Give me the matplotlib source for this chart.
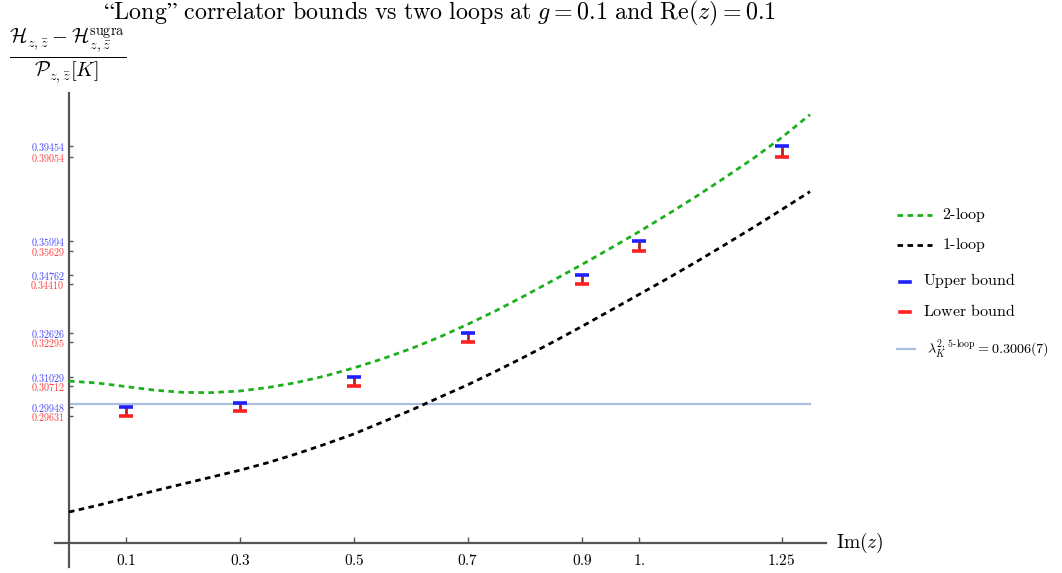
import matplotlib
matplotlib.use("Agg")
import matplotlib.pyplot as plt

plt.rcParams['mathtext.fontset'] = 'cm'
plt.rcParams['font.family'] = ['DejaVu Serif']

# bound points: Im(z), upper and lower bounds
im_z = [0.1, 0.3, 0.5, 0.7, 0.9, 1.0, 1.25]
upper = [0.29948, 0.3011, 0.31029, 0.32626, 0.34762, 0.35994, 0.39454]
lower = [0.29631, 0.2980, 0.30712, 0.32295, 0.34410, 0.35629, 0.39054]

# labelled points on the y axis
upper_ticks = [0.29948, 0.31029, 0.32626, 0.34762, 0.35994, 0.39454]
lower_ticks = [0.29631, 0.30712, 0.32295, 0.34410, 0.35629, 0.39054]

# curves, every 0.05 in Im(z)
x_curve = [0.0, 0.05, 0.1, 0.15, 0.2, 0.25, 0.3, 0.35, 0.4, 0.45, 0.5, 0.55, 0.6,
           0.65, 0.7, 0.75, 0.8, 0.85, 0.9, 0.95, 1.0, 1.05, 1.1, 1.15, 1.2, 1.25, 1.3]
y_2loop = [0.3089, 0.3082, 0.3069, 0.3056, 0.3048, 0.3047, 0.3053, 0.3066, 0.3084,
           0.3108, 0.3137, 0.3170, 0.3207, 0.3249, 0.3296, 0.3346, 0.3400, 0.3456,
           0.3513, 0.3572, 0.3632, 0.3695, 0.3760, 0.3828, 0.3898, 0.3974, 0.4058]
y_1loop = [0.2613, 0.2637, 0.2663, 0.2690, 0.2715, 0.2740, 0.2765, 0.2793, 0.2825,
           0.2860, 0.2897, 0.2940, 0.2983, 0.3030, 0.3076, 0.3126, 0.3178, 0.3232,
           0.3288, 0.3346, 0.3404, 0.3462, 0.3522, 0.3584, 0.3647, 0.3712, 0.3778]

lam_5loop = 0.3006
x_ticks = [0.1, 0.3, 0.5, 0.7, 0.9, 1.0, 1.25]
x_tick_labels = ['0.1', '0.3', '0.5', '0.7', '0.9', '1.', '1.25']

W, H = 1062, 573
fig = plt.figure(figsize=(W / 100, H / 100), dpi=100)

# axes placed in pixels: x=0 at px 69, 570 px per unit; y 0.29948 at px 407, 2750 px per unit
px_l, px_r, py_t, py_b = 40, 830, 85, 570
ax = fig.add_axes([px_l / W, 1 - py_b / H, (px_r - px_l) / W, (py_b - py_t) / H])
ax.set_xlim((px_l - 69) / 570, (px_r - 69) / 570)
ax.set_ylim(0.29948 - (py_b - 407) / 2750, 0.29948 + (407 - py_t) / 2750)

green = '#1cb01c'
blue_lab = '#4646ff'
red_lab = '#ff3c3c'
blue_cap = '#1f1fff'
red_cap = '#ff2020'
lam_col = '#aabfe0'
dash = (0, (2, 1.6))

ax.plot(x_curve, y_2loop, color=green, lw=2, ls=dash, zorder=3)
ax.plot(x_curve, y_1loop, color='black', lw=2, ls=dash, zorder=3)
ax.plot([0, 1.3], [lam_5loop, lam_5loop], color=lam_col, lw=1.6, zorder=2)

ax.vlines(im_z, lower, upper, color='#b22222', lw=2, zorder=4)
ax.plot(im_z, upper, ls='none', marker='_', ms=10, mew=2.6, color=blue_cap, zorder=5)
ax.plot(im_z, lower, ls='none', marker='_', ms=10, mew=2.6, color=red_cap, zorder=5)

# Mathematica style axes through (0, 0.25)
for s in ['top', 'right']:
    ax.spines[s].set_visible(False)
ax.spines['left'].set_position(('data', 0))
ax.spines['bottom'].set_position(('data', 0.25))
ax.spines['left'].set_bounds(0.2413, 0.4138)
ax.spines['bottom'].set_bounds(-0.025, 1.328)
for s in ['left', 'bottom']:
    ax.spines[s].set_color('#555555')
    ax.spines[s].set_linewidth(1.6)

ax.set_xticks(x_ticks)
ax.set_xticklabels(['$\\mathrm{%s}$' % t for t in x_tick_labels], fontsize=11)
ax.tick_params(axis='x', direction='in', length=4, width=1, color='#555555', pad=7)

yt = []
for u, l in zip(upper_ticks, lower_ticks):
    yt += [u, l]
ax.set_yticks(yt)
ax.set_yticklabels(['$\\mathrm{%.5f}$' % v for v in yt], fontsize=7.2)
for i, lab in enumerate(ax.get_yticklabels()):
    lab.set_color(blue_lab if i % 2 == 0 else red_lab)
ax.tick_params(axis='y', direction='in', length=3, width=1, color='#555555', pad=3)

fig.text(439 / W, 1 - 13 / H,
         r'$\mathrm{“Long”\ correlator\ bounds\ vs\ two\ loops\ at\ }g = 0.1\mathrm{\ and\ Re}(z) = 0.1$',
         ha='center', va='center', fontsize=17.3)
fig.text(68 / W, 1 - 56 / H,
         r'$\frac{\mathcal{H}_{z,\bar{z}} - \mathcal{H}^{\mathrm{sugra}}_{z,\bar{z}}}{\mathcal{P}_{z,\bar{z}}[K]}$',
         ha='center', va='center', fontsize=21)
fig.text(836 / W, 1 - 543 / H, r'$\mathrm{Im}(z)$', ha='left', va='center', fontsize=14)

# legend drawn by hand in pixel coordinates
lax = fig.add_axes([0, 0, 1, 1], zorder=-1)
lax.set_xlim(0, W)
lax.set_ylim(H, 0)
lax.axis('off')
lax.plot([897, 932], [215, 215], color=green, lw=2, ls=dash)
lax.text(942, 215, r'$\mathrm{2\text{-}loop}$', va='center', fontsize=11.5)
lax.plot([897, 932], [245, 245], color='black', lw=2, ls=dash)
lax.text(942, 245, r'$\mathrm{1\text{-}loop}$', va='center', fontsize=11.5)
lax.plot([900, 910], [282, 282], color=blue_cap, lw=2.6)
lax.text(923, 281, r'$\mathrm{Upper\ bound}$', va='center', fontsize=11.5)
lax.plot([900, 910], [312, 312], color=red_cap, lw=2.6)
lax.text(923, 311, r'$\mathrm{Lower\ bound}$', va='center', fontsize=11.5)
lax.plot([897, 915], [349, 349], color=lam_col, lw=1.6)
lax.text(927, 349, r'$\lambda_K^{2,\,5\text{-}\mathrm{loop}} = 0.3006(7)$', va='center', fontsize=10.2)

fig.savefig('out.png', dpi=100)
